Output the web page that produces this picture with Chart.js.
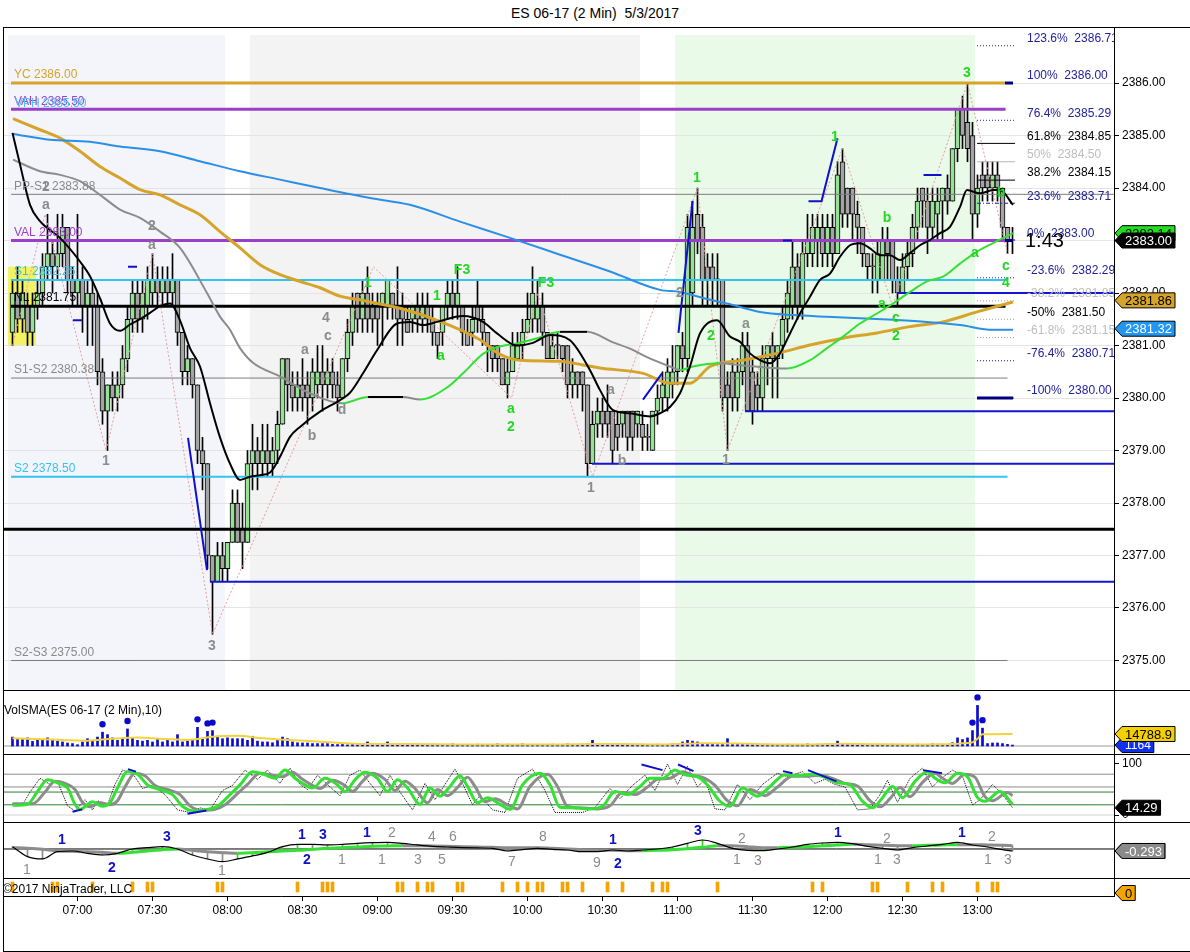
<!DOCTYPE html>
<html>
<head>
<meta charset="utf-8">
<title>ES 06-17 (2 Min) 5/3/2017</title>
<script src="https://cdn.jsdelivr.net/npm/chart.js@4.4.1/dist/chart.umd.min.js"></script>
<style>
  html, body { margin: 0; padding: 0; background: #fff; }
  body { width: 1190px; height: 952px; position: relative; overflow: hidden; font-family: "Liberation Sans", Arial, sans-serif; }
  #title { position: absolute; top: 5px; left: 0; width: 1190px; text-align: center; font-size: 14px; white-space: pre; }
  canvas { position: absolute; left: 0; }
  .sep { position: absolute; left: 3px; width: 1187px; height: 1px; background: #000; z-index: 5; }
  #frame { position: absolute; left: 3px; top: 27px; width: 1186px; height: 923px; border: 1px solid #000; z-index: 5; pointer-events: none; }
  .lbl { position: absolute; font-size: 12px; z-index: 6; white-space: pre; }
</style>
</head>
<body>
<div id="title">ES 06-17 (2 Min)  5/3/2017</div>
<canvas id="price" width="1190" height="662" style="top:28px"></canvas>
<canvas id="vol" width="1190" height="64" style="top:690px"></canvas>
<canvas id="stoch" width="1190" height="68" style="top:754px"></canvas>
<canvas id="macd" width="1190" height="56" style="top:822px"></canvas>
<canvas id="mark" width="1190" height="47" style="top:878px"></canvas>
<div class="sep" style="top:690px"></div>
<div class="sep" style="top:754px"></div>
<div class="sep" style="top:822px"></div>
<div class="sep" style="top:878px"></div>
<div id="frame"></div>
<div class="lbl" style="left:4px;top:703px">VolSMA(ES 06-17 (2 Min),10)</div>
<div class="lbl" style="left:3px;top:882px">©2017 NinjaTrader, LLC</div>
<script>
// ---------- time axis ----------
const FIRST_BAR = '06:34';
const BAR_MINUTES = 2;
const TIME_LABELS = ['07:00', '07:30', '08:00', '08:30', '09:00', '09:30', '10:00',
                     '10:30', '11:00', '11:30', '12:00', '12:30', '13:00'];

// ---------- 2 minute bars ----------
const BAR_OPEN = [
  2381.25, 2382.0, 2381.5, 2381.75, 2381.25, 2381.75, 2382.0, 2382.5, 2382.75, 2382.5,
  2382.75, 2383.25, 2382.25, 2382.0, 2382.25, 2381.75, 2382.0, 2381.75, 2380.5, 2379.75,
  2380.25, 2380.0, 2380.25, 2380.75, 2381.5, 2382.0, 2381.5, 2381.75, 2382.0, 2382.25,
  2382.0, 2382.25, 2382.0, 2382.25, 2381.25, 2380.5, 2380.75, 2380.25, 2379.0, 2378.75,
  2377.0, 2376.5, 2377.0, 2376.75, 2377.25, 2378.0, 2377.5, 2377.25, 2378.75, 2379.0,
  2378.75, 2379.0, 2378.75, 2379.0, 2379.5, 2380.75, 2380.25, 2380.0, 2380.25, 2380.25,
  2380.0, 2380.25, 2380.5, 2380.25, 2380.5, 2380.25, 2380.0, 2380.75, 2381.25, 2382.0,
  2381.5, 2382.0, 2381.75, 2381.75, 2381.75, 2381.75, 2382.0, 2381.75, 2381.75, 2381.5,
  2381.5, 2381.75, 2381.5, 2381.75, 2381.5, 2381.25, 2381.25, 2381.75, 2382.0, 2381.75,
  2381.75, 2381.25, 2381.25, 2381.75, 2381.5, 2381.25, 2381.0, 2381.0, 2380.75, 2380.25,
  2380.5, 2380.75, 2381.0, 2381.25, 2381.5, 2381.5, 2381.75, 2381.25, 2380.75, 2381.0,
  2381.0, 2381.0, 2380.25, 2380.5, 2380.5, 2380.25, 2378.75, 2379.5, 2379.75, 2379.75,
  2379.75, 2379.5, 2379.5, 2379.75, 2379.75, 2379.5, 2379.5, 2379.25, 2379.0, 2379.75,
  2380.0, 2380.0, 2380.25, 2380.5, 2381.0, 2380.75, 2382.0, 2383.5, 2383.25, 2382.5,
  2382.5, 2382.25, 2382.25, 2380.25, 2380.5, 2380.0, 2380.5, 2381.0, 2380.5, 2380.25,
  2380.0, 2380.75, 2381.0, 2380.75, 2381.0, 2381.5, 2381.75, 2382.5, 2381.75, 2382.75,
  2382.75, 2383.0, 2383.25, 2382.75, 2383.25, 2382.75, 2384.5, 2384.0, 2384.0, 2383.5,
  2383.25, 2382.75, 2382.5, 2382.25, 2382.25, 2383.0, 2383.0, 2382.25, 2382.0, 2382.5,
  2382.75, 2383.25, 2384.0, 2383.75, 2383.25, 2383.5, 2383.75, 2384.0, 2383.75, 2384.75,
  2385.5, 2385.25, 2385.0, 2383.5, 2384.25, 2384.25, 2384.0, 2384.25, 2384.0, 2383.25,
  2383.0
];
const BAR_HIGH = [
  2382.25, 2382.5, 2382.25, 2382.0, 2382.0, 2382.25, 2382.75, 2383.5, 2383.0, 2383.5,
  2383.5, 2383.25, 2382.5, 2383.5, 2382.5, 2382.25, 2382.25, 2382.0, 2380.75, 2380.25,
  2380.5, 2380.5, 2381.0, 2381.75, 2382.25, 2382.25, 2382.25, 2382.5, 2382.75, 2382.5,
  2382.5, 2382.5, 2382.75, 2382.25, 2381.25, 2381.0, 2380.75, 2380.25, 2379.25, 2378.75,
  2377.0, 2377.25, 2377.25, 2377.25, 2378.25, 2378.25, 2378.0, 2379.0, 2379.5, 2379.25,
  2379.5, 2379.5, 2379.25, 2379.75, 2380.75, 2380.75, 2380.5, 2380.5, 2380.75, 2380.5,
  2380.75, 2381.0, 2381.0, 2380.75, 2380.75, 2380.5, 2380.75, 2381.5, 2382.0, 2382.0,
  2382.25, 2382.5, 2382.0, 2382.0, 2382.0, 2382.25, 2382.0, 2382.5, 2382.0, 2381.75,
  2381.75, 2382.0, 2382.0, 2382.0, 2381.75, 2381.25, 2381.75, 2382.25, 2382.25, 2382.5,
  2381.75, 2381.5, 2381.75, 2382.25, 2381.75, 2381.25, 2381.0, 2381.0, 2380.75, 2380.75,
  2381.25, 2381.25, 2381.5, 2382.0, 2382.5, 2382.25, 2382.0, 2381.25, 2381.25, 2381.25,
  2381.0, 2381.0, 2380.75, 2380.5, 2380.5, 2380.25, 2379.75, 2380.0, 2380.0, 2380.25,
  2379.75, 2379.75, 2379.75, 2379.75, 2379.75, 2379.75, 2379.75, 2379.5, 2379.75, 2380.25,
  2380.5, 2380.75, 2381.0, 2381.0, 2381.25, 2383.5, 2383.75, 2384.0, 2383.5, 2382.75,
  2382.75, 2382.75, 2382.25, 2380.5, 2380.75, 2380.75, 2381.25, 2381.25, 2380.75, 2380.5,
  2381.0, 2381.0, 2381.25, 2381.0, 2381.75, 2382.25, 2383.0, 2382.75, 2383.0, 2383.5,
  2383.5, 2383.5, 2383.5, 2383.5, 2383.5, 2384.5, 2384.75, 2384.0, 2384.0, 2383.75,
  2383.25, 2382.75, 2382.75, 2383.0, 2383.25, 2383.25, 2383.0, 2382.5, 2382.75, 2383.0,
  2383.5, 2384.0, 2384.0, 2384.0, 2384.0, 2384.0, 2384.0, 2384.25, 2384.75, 2385.5,
  2385.75, 2386.0, 2385.25, 2384.25, 2384.5, 2384.5, 2384.5, 2384.5, 2384.0, 2383.25,
  2383.25
];
const BAR_LOW = [
  2381.0, 2381.25, 2381.25, 2381.0, 2381.0, 2381.5, 2381.75, 2382.25, 2382.0, 2382.25,
  2382.5, 2382.0, 2381.75, 2381.75, 2381.25, 2381.0, 2381.0, 2380.25, 2379.5, 2379.0,
  2379.75, 2379.75, 2380.0, 2380.5, 2381.25, 2381.25, 2381.25, 2381.5, 2381.75, 2381.75,
  2381.75, 2381.75, 2381.75, 2381.0, 2380.25, 2380.25, 2380.0, 2378.75, 2378.25, 2376.75,
  2375.5, 2376.5, 2376.5, 2376.5, 2377.25, 2377.25, 2376.75, 2377.25, 2378.25, 2378.25,
  2378.5, 2378.5, 2378.5, 2378.75, 2379.5, 2379.75, 2379.75, 2379.75, 2379.75, 2379.5,
  2379.75, 2380.0, 2379.75, 2380.0, 2380.0, 2379.75, 2380.0, 2380.5, 2381.0, 2381.25,
  2381.25, 2381.25, 2381.25, 2381.0, 2381.0, 2381.5, 2381.5, 2381.0, 2381.0, 2381.25,
  2381.25, 2381.25, 2381.25, 2381.25, 2381.0, 2380.75, 2381.0, 2381.5, 2381.5, 2381.5,
  2381.0, 2381.0, 2381.0, 2381.25, 2381.0, 2380.5, 2380.5, 2380.5, 2380.25, 2380.0,
  2380.5, 2380.75, 2380.75, 2381.25, 2381.25, 2381.25, 2381.0, 2380.75, 2380.75, 2380.75,
  2380.5, 2380.0, 2380.0, 2380.0, 2379.75, 2378.5, 2378.75, 2379.25, 2379.25, 2379.25,
  2378.75, 2379.0, 2379.25, 2379.0, 2379.0, 2379.25, 2379.0, 2379.0, 2379.0, 2379.5,
  2379.75, 2379.75, 2380.0, 2380.25, 2380.5, 2380.5, 2381.75, 2382.75, 2381.75, 2381.75,
  2381.75, 2381.75, 2379.75, 2379.0, 2379.75, 2379.75, 2380.25, 2379.75, 2379.5, 2379.75,
  2379.75, 2380.25, 2380.0, 2380.0, 2380.75, 2381.25, 2381.5, 2381.5, 2381.5, 2382.5,
  2382.5, 2382.5, 2382.5, 2382.5, 2382.5, 2382.75, 2383.25, 2383.25, 2383.0, 2382.75,
  2382.5, 2382.25, 2382.0, 2382.0, 2382.25, 2382.25, 2382.0, 2381.75, 2382.0, 2382.25,
  2382.5, 2383.0, 2383.25, 2382.75, 2383.0, 2383.0, 2383.0, 2383.5, 2383.75, 2384.5,
  2384.75, 2384.5, 2383.0, 2383.25, 2383.75, 2383.75, 2383.75, 2383.75, 2383.0, 2382.75,
  2382.75
];
const BAR_CLOSE = [
  2382.0, 2381.5, 2382.0, 2381.25, 2381.75, 2382.0, 2382.5, 2382.75, 2382.5, 2382.75,
  2383.25, 2382.25, 2382.0, 2382.25, 2381.75, 2382.0, 2381.75, 2380.5, 2379.75, 2380.25,
  2380.0, 2380.25, 2380.75, 2381.5, 2382.0, 2381.5, 2382.0, 2382.25, 2382.25, 2382.0,
  2382.25, 2382.0, 2382.25, 2381.25, 2380.5, 2380.75, 2380.25, 2379.0, 2378.75, 2377.0,
  2376.5, 2377.0, 2376.75, 2377.25, 2378.0, 2377.25, 2377.25, 2378.75, 2379.0, 2378.75,
  2379.0, 2378.75, 2379.0, 2379.5, 2380.75, 2380.25, 2380.0, 2380.25, 2380.0, 2380.0,
  2380.5, 2380.5, 2380.25, 2380.5, 2380.25, 2380.0, 2380.75, 2381.25, 2381.75, 2381.5,
  2382.0, 2381.5, 2381.5, 2381.5, 2382.0, 2382.25, 2381.75, 2381.5, 2381.5, 2381.25,
  2381.75, 2381.5, 2381.75, 2381.5, 2381.25, 2381.0, 2381.75, 2382.0, 2381.75, 2382.0,
  2381.25, 2381.0, 2381.5, 2381.5, 2381.25, 2381.0, 2380.75, 2380.75, 2380.25, 2380.5,
  2381.0, 2381.0, 2381.25, 2381.5, 2382.0, 2381.75, 2381.25, 2380.75, 2381.0, 2381.0,
  2380.75, 2380.25, 2380.5, 2380.25, 2380.25, 2378.75, 2379.5, 2379.75, 2379.5, 2379.5,
  2379.0, 2379.25, 2379.75, 2379.25, 2379.25, 2379.75, 2379.25, 2379.25, 2379.75, 2380.0,
  2380.25, 2380.5, 2380.5, 2381.0, 2380.75, 2383.25, 2383.25, 2383.0, 2382.25, 2382.25,
  2382.25, 2382.25, 2380.0, 2380.0, 2380.0, 2380.5, 2381.0, 2379.75, 2379.75, 2380.0,
  2380.75, 2381.0, 2380.75, 2381.0, 2381.5, 2382.0, 2382.5, 2381.75, 2382.75, 2383.0,
  2383.25, 2383.25, 2382.75, 2383.25, 2382.75, 2384.25, 2383.5, 2383.5, 2383.5, 2383.25,
  2382.75, 2382.5, 2382.5, 2382.75, 2383.0, 2382.75, 2382.25, 2382.0, 2382.5, 2382.75,
  2383.25, 2383.75, 2383.75, 2383.25, 2383.75, 2383.75, 2384.0, 2383.75, 2384.75, 2385.5,
  2385.0, 2384.75, 2383.5, 2384.0, 2384.0, 2384.0, 2384.25, 2384.0, 2383.25, 2383.0,
  2383.0
];

// ---------- moving averages, [bar, price] ----------
const MA_FAST = [[0,2385.05],[1.5,2384.45],[3.5,2383.68],[5.5,2383.37],[9.5,2383.05],[13.5,2382.6],[15.5,2382.32],
  [17.5,2381.9],[19.5,2381.42],[21.5,2381.28],[23.5,2381.4],[25.5,2381.5],[27.5,2381.62],[29.5,2381.75],[31.5,2381.8],
  [33.5,2381.48],[35.5,2380.95],[37.5,2380.6],[39.5,2379.9],[41.5,2379.25],[43.5,2378.75],[45.5,2378.44],[47.5,2378.5],
  [49.5,2378.53],[51.5,2378.58],[53.5,2378.88],[55.5,2379.26],[57.5,2379.45],[61.5,2379.74],[65.5,2379.96],[67.5,2380.1],
  [70.1,2380.47],[72.9,2380.91],[76.9,2381.42],[79.5,2381.45],[82.1,2381.39],[84.9,2381.45],[90.1,2381.56],[94.1,2381.45],
  [96.9,2381.23],[100.9,2381.0],[104.1,2381.05],[107.5,2381.2],[111.5,2381.1],[115.5,2380.53],[117.5,2380.15],[120.1,2379.77],
  [123.5,2379.71],[127.5,2379.65],[129.5,2379.71],[131.5,2379.83],[133.5,2380.09],[135.5,2380.6],[137.5,2381.23],[140.9,2381.48],
  [143.5,2381.17],[145.5,2381.07],[147.5,2380.85],[149.5,2380.72],[151.5,2380.66],[153.5,2380.85],[155.5,2381.23],[157.5,2381.61],
  [159.5,2381.93],[161.5,2382.25],[163.5,2382.37],[165.5,2382.69],[167.5,2382.91],[169.5,2382.95],[171.5,2382.85],[173.5,2382.72],
  [175.5,2382.72],[177.5,2382.63],[179.5,2382.76],[181.5,2382.91],[183.5,2383.01],[185.5,2383.14],[187.5,2383.26],[189.5,2383.64],
  [190.9,2383.96],[193.5,2383.9],[196.1,2383.96],[197.5,2383.96],[200.1,2383.68]];
const MA_TREND = [[0.1,2384.54],[5.5,2384.32],[9.5,2384.25],[13.5,2384.13],[17.5,2383.87],[21.5,2383.59],[25.5,2383.43],
  [29.5,2383.17],[33.5,2382.86],[38.9,2382.0],[41.5,2381.55],[43.5,2381.3],[45.5,2380.95],[48.1,2380.67],[53.5,2380.41],
  [59.5,2380.09],[65.9,2379.9],[71.1,2380.02],[78.1,2380.02],[81.5,2379.97],[86.9,2380.2],[90.1,2380.47],[94.1,2380.84],
  [96.9,2380.97],[100.9,2381.04],[103.5,2381.1],[106.1,2381.17],[109.5,2381.26],[114.9,2381.26],[120.1,2381.06],[123.5,2380.94],
  [126.9,2380.78],[131.5,2380.6],[133.5,2380.53],[136.1,2380.6],[141.5,2380.66],[146.1,2380.62],[154.9,2380.56],[159.5,2380.72],
  [162.9,2380.95],[166.1,2381.17],[169.5,2381.42],[172.9,2381.61],[176.1,2381.8],[179.5,2382.02],[182.9,2382.22],[186.1,2382.31],
  [189.5,2382.56],[192.9,2382.79],[196.1,2382.95],[200.1,2383.14]];
const MA_GOLD = [[0.1,2385.32],[5.5,2385.11],[9.5,2384.95],[13.5,2384.7],[17.5,2384.41],[21.5,2384.19],[25.5,2383.97],
  [29.5,2383.87],[33.5,2383.68],[37.5,2383.49],[41.5,2383.17],[45.5,2382.86],[49.5,2382.54],[53.5,2382.35],[57.5,2382.22],
  [61.5,2382.1],[65.5,2381.94],[69.5,2381.87],[71.5,2381.83],[77.5,2381.71],[85.5,2381.46],[93.5,2381.11],[97.5,2380.83],
  [101.5,2380.72],[109.5,2380.7],[114.1,2380.63],[117.5,2380.57],[126.1,2380.47],[131.5,2380.28],[135.5,2380.28],[139.5,2380.6],
  [146.1,2380.72],[152.9,2380.85],[159.5,2381.01],[166.1,2381.14],[172.9,2381.24],[179.5,2381.36],[186.1,2381.45],[192.9,2381.64],
  [200.1,2381.83]];
const MA_SLOW = [[0.1,2385.03],[7.5,2384.92],[15.5,2384.88],[21.5,2384.79],[29.5,2384.7],[37.5,2384.51],[45.5,2384.32],
  [53.5,2384.16],[61.5,2384.0],[71.5,2383.81],[79.5,2383.68],[89.5,2383.36],[99.5,2383.05],[109.5,2382.73],[119.5,2382.41],
  [129.5,2382.06],[133.5,2382.02],[139.5,2381.87],[142.9,2381.8],[149.5,2381.64],[156.1,2381.58],[162.9,2381.55],[169.5,2381.52],
  [176.1,2381.49],[182.9,2381.45],[189.5,2381.39],[196.1,2381.3],[200.1,2381.3]];

// swing zigzag and trend strokes, [bar, price]
const ZIGZAG = [[0,2381.0],[6.5,2383.5],[18.7,2379.0],[28,2382.75],[40,2375.5],[72.2,2382.5],[99.8,2380.0],
  [105.1,2382.0],[116,2378.5],[137,2384.0],[143,2379.0],[166,2384.75],[176,2381.75],[191,2386.0],[199,2382.75]];
const TREND_STROKES = [
  [[35.1,2379.24],[38.9,2376.72]],
  [[126.1,2379.97],[129.9,2380.47]],
  [[133.2,2381.24],[136.0,2383.75]],
  [[159.2,2383.75],[161.8,2383.75],[165.0,2384.95]],
  [[182.2,2384.25],[185.8,2384.25]],
  [[154.1,2383.0],[155.9,2383.0]],
  [[23.1,2382.5],[24.9,2382.5]],
  [[12.1,2381.48],[13.9,2381.48]]
];

// ---------- price levels ----------
const LEVEL_NAMES  = ['YC', 'VAH', 'VPH', 'PP-S1', 'VAL', 'S1', 'NL', 'S1-S2', 'S2', 'S2-S3', 'BL'];
const LEVEL_PRICES = [2386.00, 2385.50, 2385.50, 2383.88, 2383.00, 2382.25, 2381.75, 2380.38, 2378.50, 2375.00, 2377.50];
const SUPPORT_PRICES = [2376.50, 2378.75, 2379.75, 2382.00];
const SUPPORT_FROM   = [39.5, 115.9, 146.5, 176.9];
const FIB_PCTS   = [123.6, 100, 76.4, 61.8, 50, 38.2, 23.6, 0, -23.6, -38.2, -50, -61.8, -76.4, -100];
const FIB_PRICES = [2386.71, 2386.00, 2385.29, 2384.85, 2384.50, 2384.15, 2383.71, 2383.00,
                    2382.29, 2381.85, 2381.50, 2381.15, 2380.71, 2380.00];
const PRICE_TICKS = [2375, 2376, 2377, 2378, 2379, 2380, 2381, 2382, 2383, 2384, 2385, 2386];
const PRICE_TAGS = [2383.14, 2383.00, 2381.86, 2381.32];
const BAR_TIMER = '1:43';

// wave labels: [bar, price, text, tone]
const WAVE_NOTES = [
  [6.7,2384.02,'2','n'],[6.7,2383.68,'a','n'],[18.7,2378.8,'1','n'],[27.9,2383.28,'2','n'],[27.9,2382.91,'a','n'],
  [39.9,2375.28,'3','n'],[62.7,2381.52,'4','n'],[63.1,2381.18,'c','n'],[58.5,2380.91,'a','n'],[59.9,2379.28,'b','n'],
  [65.9,2379.77,'d','n'],[71.1,2382.19,'1','g'],[84.9,2381.94,'1','g'],[89.9,2382.44,'F3','g'],[85.7,2380.8,'a','g'],
  [99.7,2379.79,'a','g'],[99.7,2379.45,'2','g'],[106.7,2382.19,'F3','g'],[115.7,2378.29,'1','n'],[121.9,2378.8,'b','n'],
  [119.7,2380.15,'a','n'],[136.9,2384.19,'1','g'],[133.5,2382.0,'2','n'],[139.7,2381.18,'2','g'],[146.7,2381.41,'a','n'],
  [142.7,2378.82,'1','n'],[164.5,2384.97,'1','g'],[174.9,2383.43,'b','g'],[173.9,2381.79,'a','g'],[176.7,2381.52,'c','g'],
  [176.7,2381.18,'2','g'],[190.9,2386.19,'3','g'],[197.7,2383.9,'b','g'],[192.5,2382.76,'a','g'],[198.7,2382.51,'c','g'],
  [198.7,2382.19,'4','g']
];

// ---------- volume ----------
const VOLUME = [
  11000, 9000, 9000, 10000, 5700, 7000, 8000, 10000, 7000, 6000,
  5000, 3700, 3000, 1600, 5000, 9000, 7000, 11000, 17000, 14000,
  10000, 7000, 9000, 21000, 10000, 7000, 6000, 7000, 5000, 9000,
  5000, 7000, 5000, 14000, 5000, 6000, 8000, 23000, 9000, 18000,
  19000, 12000, 9000, 10000, 9000, 9000, 9000, 7000, 12000, 6000,
  5000, 5000, 4000, 7000, 11000, 9000, 5000, 4000, 3700, 3700,
  3000, 3000, 3000, 3000, 2000, 1800, 2000, 1500, 2000, 1800,
  2500, 5000, 2000, 1800, 2500, 5000, 2200, 1500, 2000, 1800,
  1500, 2000, 1700, 1500, 2200, 1800, 1500, 1700, 2500, 1800,
  2000, 1500, 1800, 2200, 1500, 1700, 2000, 2500, 1800, 2200,
  2000, 1500, 2500, 1800, 2000, 1700, 1500, 1800, 2200, 1500,
  1800, 2500, 2000, 1700, 2200, 2500, 7000, 2000, 1500, 1800,
  1500, 2000, 1700, 1500, 1800, 1600, 2000, 1500, 1700, 2200,
  1800, 2000, 2500, 2200, 5000, 7000, 6000, 5000, 3000, 2000,
  2200, 1800, 2000, 9000, 2500, 2000, 2200, 1800, 2500, 2000,
  1500, 2200, 1800, 1700, 2000, 2200, 1800, 1500, 2000, 2500,
  1800, 2200, 2000, 2500, 3000, 6000, 2500, 2200, 2000, 1800,
  2200, 2000, 1800, 1500, 2000, 1800, 2200, 1700, 1500, 1800,
  2000, 2200, 1800, 2000, 2500, 2200, 1800, 2000, 4000, 10000,
  8000, 10000, 19000, 50000, 22000, 3000, 3700, 3700, 3000, 2000,
  1164
];
const VOL_SMA = [[0,9500],[5,8500],[10,7500],[15,6500],[20,9000],[25,10500],[30,8500],[35,7500],[40,11500],[45,12500],
  [50,9500],[55,7500],[60,6000],[65,4000],[70,2500],[75,2600],[80,2400],[90,1900],[100,1900],[110,2000],[116,2500],
  [122,2600],[130,1800],[138,3500],[145,3200],[150,2300],[160,2000],[166,2800],[172,2200],[180,1900],[188,2400],
  [190,3300],[192,4500],[193,9000],[194,14500],[200,14788.9]];
const VOL_SPIKE = 16000;

// ---------- stochastics, [bar, value] ----------
const STOCH_SMOOTH = [[0,19],[3,21],[5,46],[7,69],[9,63],[11,53],[12.5,21],[13.5,11],[16,26],[18,17],[19.5,24],[21,53],
  [23,85],[25,80],[27,59],[29.5,50],[32,40],[34,17],[36.5,8],[39,11],[41,17],[43.5,40],[45.5,59],[48,85],[50.5,79],
  [52.5,72],[54.5,88],[56.5,72],[58.5,59],[60,53],[62.5,72],[65,59],[66.5,46],[68.5,69],[70.5,84],[73,72],[75,46],
  [77,69],[79,53],[81.5,21],[83.5,53],[85.5,37],[87.5,56],[89.5,77],[91,56],[93,24],[95,34],[97.5,21],[99.5,11],
  [102,59],[105.5,82],[107.5,59],[109.5,15],[112,14],[115.5,12],[118,17],[120.5,46],[123,40],[125.5,56],[127.5,72],
  [130,72],[132.5,88],[134.5,79],[137,75],[139,59],[141.5,27],[143.5,17],[146,53],[149,37],[151.5,56],[154.5,79],
  [157,77],[160,80],[163,72],[165,63],[167.5,59],[170,27],[172,14],[174,34],[176,56],[178,34],[180.5,66],[183,85],
  [184.5,72],[186.5,63],[189,82],[191,75],[193,34],[194.5,27],[197.5,46],[200,21]];
const STOCH_D = [[0,22],[4,22],[6.5,45],[8.5,66],[10.5,62],[12.5,50],[14,25],[15.5,16],[17.5,24],[19.5,20],[21,28],
  [22.5,55],[24.5,82],[26.5,77],[28.5,58],[31,50],[33.5,40],[35.5,18],[38,9],[40.5,11],[42.5,20],[45,42],[47,60],
  [49.5,82],[52,78],[54,75],[56,84],[58,70],[60,58],[61.5,52],[64,68],[66.5,58],[68,46],[70,66],[72,82],[74.5,70],
  [76.5,48],[78.5,66],[80.5,52],[83,24],[85,50],[87,38],[89,54],[91,74],[92.5,56],[94.5,26],[96.5,32],[99,20],
  [101,12],[103.5,56],[107,80],[109,56],[111,17],[113.5,14],[117,12],[119.5,18],[122,44],[124.5,40],[127,55],
  [129,70],[131.5,72],[134,85],[136,78],[138.5,72],[140.5,58],[143,28],[145,18],[147.5,50],[150.5,38],[153,55],
  [156,76],[158.5,76],[161.5,78],[164.5,70],[166.5,62],[169,57],[171.5,28],[173.5,16],[175.5,32],[177.5,54],
  [179.5,36],[182,64],[184.5,82],[186,72],[188,62],[190.5,80],[192.5,74],[194.5,36],[196,28],[199,44],[200,38]];
const STOCH_K = [[0,22],[2,20],[3.5,45],[5.5,72],[7.5,60],[9,66],[11,18],[12.5,8],[14.5,30],[16,10],[17,28],[19,20],
  [20.5,60],[22,88],[24,82],[26,52],[28,58],[30.5,40],[33,10],[35.5,5],[37.5,14],[39.5,10],[42,48],[44,58],[46.5,88],
  [49,70],[51,88],[53.5,62],[55.5,92],[57.5,60],[59,50],[61,78],[63.5,55],[65.5,38],[67.5,78],[69.5,88],[71.5,62],
  [73.5,38],[75.5,78],[77.5,45],[80,10],[82.5,62],[84.5,30],[86.5,60],[88.5,90],[90,62],[92,20],[93.5,38],[96,10],
  [98.5,5],[101,72],[104,90],[106.5,48],[108.5,5],[111,5],[114,5],[116.5,15],[119.5,52],[121.5,32],[124,58],
  [126.5,78],[128.5,48],[131,100],[133,60],[135,95],[137,55],[138.5,70],[140.5,12],[142.5,10],[145,60],[147.5,30],
  [150,60],[153,82],[155,75],[158,85],[160.5,62],[162.5,70],[164.5,60],[166.5,55],[169,10],[171.5,12],[173.5,40],
  [175,68],[177,25],[179.5,72],[182,92],[184,55],[185.5,70],[188,88],[190,76],[192,20],[193.5,30],[196,60],[198,40],
  [200,14.29]];
const STOCH_STROKES = [
  [[12.0,6.5],[13.95,11]], [[23.1,90],[24.7,85]], [[35,2.6],[38.8,9]], [[125.8,99],[130,88]],
  [[133.1,99],[136.2,86]], [[154.1,86],[156,82]], [[159.1,88],[164.8,66]], [[182.1,88],[185.9,82]]
];
const STOCH_LEVELS = [80, 55, 45, 20, 0];
const STOCH_TICKS = [0, 100];

// ---------- MACD ----------
const MACD_BARS = [0,3,6,9,12,15,18,21,24,27,30,33,36,39,42,45,48,51,54,57,60,63,66,69,72,75,78,81,84,87,
  90,93,96,99,102,105,108,111,114,117,120,123,126,129,132,135,138,141,144,147,150,153,156,159,162,165,168,171,
  174,177,180,183,186,189,192,195,198,200];
const MACD_LINE = [0.34,-1.12,-1.46,-0.39,-0.29,-0.63,-0.88,-0.63,0,0.20,
  0.34,0,-0.88,-1.46,-1.85,-1.46,-1.02,-0.49,0.34,0.68,
  0.68,0.59,0.68,0.83,0.93,0.98,0.83,0.59,0.39,0.29,
  0.20,0.15,0.10,-0.29,-0.10,0.10,-0.05,-0.15,-0.39,-0.39,
  -0.15,-0.29,-0.15,0,0.29,0.83,1.32,0.83,0.10,-0.20,
  -0.24,0,0.29,0.68,0.88,0.98,0.78,0.39,0.10,-0.15,
  0.20,0.44,0.68,0.98,0.59,0.29,-0.10,-0.29];
const MACD_SIGNAL = [0.20,0.10,-0.05,-0.29,-0.34,-0.39,-0.49,-0.63,-0.49,-0.29,
  -0.10,0,-0.20,-0.39,-0.54,-0.63,-0.54,-0.39,-0.29,-0.20,
  -0.05,0.10,0.20,0.29,0.39,0.44,0.49,0.49,0.44,0.39,
  0.34,0.29,0.24,0.20,0.20,0.20,0.10,0,-0.10,-0.20,
  -0.20,-0.24,-0.24,-0.20,-0.10,0.05,0.24,0.49,0.49,0.34,
  0.20,0.20,0.24,0.34,0.49,0.59,0.68,0.63,0.54,0.49,
  0.49,0.54,0.59,0.63,0.63,0.59,0.54,0.49];
// swing counts in the MACD pane: [bar, value, text, tone]
const MACD_NOTES = [
  [9.9,1.32,'1','b'],[19.9,-2.78,'2','b'],[30.9,1.76,'3','b'],[57.9,2.05,'1','b'],[62.1,2.05,'3','b'],[58.9,-1.61,'2','b'],
  [70.9,2.34,'1','b'],[120.1,1.32,'1','b'],[121.1,-2.2,'2','b'],[137.1,2.64,'3','b'],[165.1,2.34,'1','b'],[189.9,2.34,'1','b'],
  [2.9,-3.08,'1','n'],[41.9,-3.22,'1','n'],[65.9,-1.61,'1','n'],[75.9,2.34,'2','n'],[73.9,-1.61,'1','n'],[83.9,1.76,'4','n'],
  [88.1,1.76,'6','n'],[81.1,-1.61,'3','n'],[85.9,-1.61,'5','n'],[99.9,-1.9,'7','n'],[106.1,1.76,'8','n'],[116.9,-2.05,'9','n'],
  [145.9,1.47,'2','n'],[144.9,-1.61,'1','n'],[149.1,-1.76,'3','n'],[174.9,1.47,'2','n'],[173.1,-1.61,'1','n'],
  [176.9,-1.61,'3','n'],[195.9,1.76,'2','n'],[195.1,-1.61,'1','n'],[199.1,-1.61,'3','n']
];
const MACD_TAGS = [-0.291, -0.293];

// ---------- alert markers ----------
const MARKER_BARS = [0,8,9,16,24,27,28,41,42,57,62,63,64,77,78,81,83,84,89,90,98,101,103,105,106,110,111,114,
  119,122,128,130,131,141,160,162,172,173,179,184,186,193,196,197];

// ====================================================================
const X_MIN = -1.7, X_MAX = 220.3;
const AXIS_W = 76;
const FONT = '"Liberation Sans", Arial, sans-serif';
Chart.defaults.font.family = FONT;
Chart.defaults.font.size = 12;
Chart.defaults.color = '#000';

const UP = '#98E098', DOWN = '#A4A4A4';
const GREEN_TXT = '#22D822', GRAY_TXT = '#8C8C8C';
const NAVY = '#22229C';

const LEVEL_STYLE = {
  'YC':    { color: '#D6A42A', width: 3, from: -0.3, to: 198.6 },
  'VAH':   { color: '#9A3FC8', width: 3, from: -0.3, to: 198.6 },
  'VPH':   { color: '#4FC3F7', width: 1, from: -0.3, to: 198.6, dy: 2, dx: 1 },
  'PP-S1': { color: '#7C7C7C', width: 1, from: -0.3, to: X_MAX },
  'VAL':   { color: '#9A3FC8', width: 3, from: -0.3, to: 199.5 },
  'S1':    { color: '#33C3F0', width: 2, from: -0.3, to: 199.0 },
  'NL':    { color: '#000000', width: 3, from: -0.3, to: 198.6 },
  'S1-S2': { color: '#7C7C7C', width: 1, from: -0.3, to: 199.0 },
  'S2':    { color: '#33C3F0', width: 2, from: -0.3, to: 199.0 },
  'S2-S3': { color: '#7C7C7C', width: 1, from: -0.3, to: 199.0 },
  'BL':    { color: '#000000', width: 3, from: X_MIN, to: X_MAX, noLabel: true }
};
const LEVEL_TEXT = { 'YC': '#D6A42A', 'VAH': '#9A3FC8', 'VPH': '#4FC3F7', 'PP-S1': '#8A8A8A', 'VAL': '#9A3FC8',
  'S1': '#33C3F0', 'NL': '#000000', 'S1-S2': '#8A8A8A', 'S2': '#33C3F0', 'S2-S3': '#8A8A8A' };

function fibStyle(p) {
  if (p === 61.8 || p === 38.2) return { line: '#000', dash: [], text: '#000' };
  if (p === 50) return { line: '#B4B4B4', dash: [], text: '#BDBDBD' };
  if (p === -38.2 || p === -61.8) return { line: '#9A9A9A', dash: [1, 2], text: '#BDBDBD' };
  if (p === -50) return { line: '#9A9A9A', dash: [1, 2], text: '#000' };
  if (p === 23.6) return { line: NAVY, dash: [4, 2, 1, 2], text: NAVY };
  if (p === 100 || p === 0) return { line: null, dash: [], text: NAVY };
  return { line: NAVY, dash: [1, 2], text: NAVY };
}

function barOf(hhmm) {
  const [h, m] = hhmm.split(':').map(Number);
  const [h0, m0] = FIRST_BAR.split(':').map(Number);
  return ((h * 60 + m) - (h0 * 60 + m0)) / BAR_MINUTES;
}
const pts = arr => arr.map(p => ({ x: p[0], y: p[1] }));
function strokes(list) {
  const out = [];
  list.forEach(seg => { seg.forEach(p => out.push({ x: p[0], y: p[1] })); out.push({ x: seg[seg.length - 1][0], y: null }); });
  return out;
}
function hLine(y, x0, x1, color, width, dash, order) {
  return { type: 'line', data: [{ x: x0, y }, { x: x1, y }], borderColor: color, borderWidth: width,
           borderDash: dash || [], pointRadius: 0, order: order === undefined ? 8 : order };
}
function lineSet(data, color, width, order, extra) {
  return Object.assign({ type: 'line', data, borderColor: color, borderWidth: width, pointRadius: 0,
    cubicInterpolationMode: 'monotone', order }, extra || {});
}

function xScale(show) {
  return {
    type: 'linear', min: X_MIN, max: X_MAX, offset: false, display: show,
    grid: { display: show, drawOnChartArea: false, drawTicks: true, tickLength: 5, tickColor: '#000', offset: false },
    border: { display: show, color: '#000' },
    afterBuildTicks: ax => { ax.ticks = TIME_LABELS.map(t => ({ value: barOf(t) })); },
    ticks: { callback: (v, i) => TIME_LABELS[i], autoSkip: false, maxRotation: 0, padding: 2, font: { size: 12 } },
    afterFit: ax => { ax.height = show ? 29 : 0; ax.paddingLeft = 0; ax.paddingRight = 0; }
  };
}
function yScale(min, max, extra) {
  return Object.assign({
    type: 'linear', position: 'right', min, max,
    grid: { display: false },
    border: { display: true, color: '#000' },
    ticks: { display: false },
    afterFit: ax => { ax.width = AXIS_W; ax.paddingTop = 0; ax.paddingBottom = 0; }
  }, extra || {});
}
function baseOptions(yOpts, showX) {
  return {
    responsive: false, devicePixelRatio: 1, animation: false,
    layout: { padding: { left: 4, right: 0, top: 0, bottom: 0 } },
    plugins: { legend: { display: false }, tooltip: { enabled: false } },
    scales: { x: xScale(!!showX), y: yOpts }
  };
}

function drawTag(ctx, x, y, text, bg, fg, size) {
  ctx.save();
  ctx.font = (size || 13) + 'px ' + FONT;
  const w = ctx.measureText(text).width + 6, h = 15;
  ctx.beginPath();
  ctx.moveTo(x, y); ctx.lineTo(x + 7, y - h / 2); ctx.lineTo(x + 7 + w, y - h / 2);
  ctx.lineTo(x + 7 + w, y + h / 2); ctx.lineTo(x + 7, y + h / 2); ctx.closePath();
  ctx.fillStyle = bg; ctx.fill();
  ctx.strokeStyle = '#000'; ctx.lineWidth = 1; ctx.stroke();
  ctx.fillStyle = fg; ctx.textAlign = 'left'; ctx.textBaseline = 'middle';
  ctx.fillText(text, x + 10, y + 1);
  ctx.restore();
}
function tagsPlugin(id, tags) {
  return { id, afterDraw(chart) {
    const y = chart.scales.y, x0 = chart.chartArea.right + 1;
    tags.forEach(t => drawTag(chart.ctx, x0, y.getPixelForValue(t.value), t.text, t.bg, t.fg, t.size));
  } };
}
function notesPlugin(id, notes, clip) {
  return { id, afterDatasetsDraw(chart) {
    const { ctx, scales: { x, y }, chartArea: a } = chart;
    ctx.save();
    if (clip) { ctx.beginPath(); ctx.rect(a.left, a.top, a.right - a.left, a.bottom - a.top); ctx.clip(); }
    notes.forEach(n => {
      ctx.font = n.font; ctx.fillStyle = n.color;
      ctx.textAlign = n.align || 'center'; ctx.textBaseline = n.baseline || 'middle';
      ctx.fillText(n.text, x.getPixelForValue(n.x) + (n.dx || 0), y.getPixelForValue(n.y) + (n.dy || 0));
    });
    ctx.restore();
  } };
}

// ---------------- price pane ----------------
const SESSION_BANDS = [[-0.9, 42.5, '#F4F5FB'], [47.5, 125.5, '#F3F3F3'], [132.5, 192.5, '#E9FAE9']];
const bandsPlugin = { id: 'bands', beforeDraw(chart) {
  const { ctx, scales: { x, y }, chartArea: a } = chart;
  ctx.save();
  SESSION_BANDS.forEach(b => {
    ctx.fillStyle = b[2];
    const top = a.top + 7;
    ctx.fillRect(x.getPixelForValue(b[0]), top, x.getPixelForValue(b[1]) - x.getPixelForValue(b[0]), a.bottom - top);
  });
  // opening range box
  ctx.fillStyle = '#F2F263';
  const x0 = x.getPixelForValue(-0.9), x1 = x.getPixelForValue(4.7);
  const y0 = y.getPixelForValue(2382.5), y1 = y.getPixelForValue(2381.0);
  ctx.fillRect(x0, y0, x1 - x0, y1 - y0);
  ctx.restore();
} };

const priceDatasets = [];
priceDatasets.push({
  type: 'bar', data: BAR_OPEN.map((o, i) => ({ x: i, y: [BAR_LOW[i], BAR_HIGH[i]] })),
  backgroundColor: '#000', barThickness: 1, grouped: false, order: 20
});
priceDatasets.push({
  type: 'bar', data: BAR_OPEN.map((o, i) => ({ x: i, y: [Math.min(o, BAR_CLOSE[i]), Math.max(o, BAR_CLOSE[i])] })),
  backgroundColor: BAR_OPEN.map((o, i) => BAR_CLOSE[i] > o ? UP : DOWN),
  borderColor: '#000', borderWidth: 1, borderSkipped: false, barThickness: 5, minBarLength: 1, grouped: false, order: 19
});
LEVEL_NAMES.forEach((n, k) => {
  const s = LEVEL_STYLE[n];
  priceDatasets.push(hLine(LEVEL_PRICES[k], s.from, s.to, s.color, s.width, [], n === 'VPH' ? 9 : 8));
});
SUPPORT_PRICES.forEach((p, k) => priceDatasets.push(hLine(p, SUPPORT_FROM[k], X_MAX, '#1515D0', 2, [], 8)));
FIB_PCTS.forEach((p, k) => {
  const st = fibStyle(p);
  if (st.line) priceDatasets.push(hLine(FIB_PRICES[k], 192.9, 200.5, st.line, 1, st.dash, 7));
});
priceDatasets.push(hLine(FIB_PRICES[1], 198.5, 200.1, '#000080', 3, [], 6));
priceDatasets.push(hLine(FIB_PRICES[7], 198.5, 200.1, '#000080', 3, [], 6));
priceDatasets.push(hLine(FIB_PRICES[13], 192.9, 200.1, '#000080', 3, [], 6));
priceDatasets.push(lineSet(pts(ZIGZAG), '#E79C9C', 1, 12, { borderDash: [2, 2], cubicInterpolationMode: 'default', tension: 0 }));
priceDatasets.push(lineSet(pts(MA_SLOW), '#2B8FE8', 2, 5));
priceDatasets.push(lineSet(pts(MA_GOLD), '#D6A42A', 3, 5));
priceDatasets.push(lineSet(pts(MA_TREND), '#8C8C8C', 2, 4, {
  segment: { borderColor: c => {
    const s = (c.p1.parsed.y - c.p0.parsed.y) / (c.p1.parsed.x - c.p0.parsed.x);
    return s > 0.004 ? '#33E033' : (s < -0.006 ? '#8C8C8C' : '#000');
  } }
}));
priceDatasets.push(lineSet(pts(MA_FAST), '#000', 2, 3));
priceDatasets.push(lineSet(strokes(TREND_STROKES), '#1010CC', 2, 2, { cubicInterpolationMode: 'default', tension: 0, spanGaps: false }));

const priceNotes = [];
WAVE_NOTES.forEach(w => priceNotes.push({ x: w[0], y: w[1], text: w[2], color: w[3] === 'g' ? GREEN_TXT : GRAY_TXT,
  font: 'bold 14px ' + FONT }));
LEVEL_NAMES.forEach((n, k) => {
  const s = LEVEL_STYLE[n];
  if (s.noLabel) return;
  priceNotes.push({ x: 0.3, y: LEVEL_PRICES[k], text: n + ' ' + LEVEL_PRICES[k].toFixed(2), color: LEVEL_TEXT[n],
    font: '12px ' + FONT, align: 'left', baseline: 'bottom', dy: -2 + (s.dy || 0), dx: s.dx || 0 });
});
const fibNotes = FIB_PCTS.map((p, k) => ({ x: 202.9, y: FIB_PRICES[k], text: p + '%  ' + FIB_PRICES[k].toFixed(2),
  color: fibStyle(p).text, font: '12px ' + FONT, align: 'left', baseline: 'bottom', dy: -1 }));
fibNotes.push({ x: 202.5, y: 2383.0, text: BAR_TIMER, color: '#000', font: '20px ' + FONT, align: 'left', baseline: 'middle', dy: 1 });

const priceTagStyle = [['#22DD22', '#000'], ['#000', '#fff'], ['#D6A42A', '#000'], ['#2196F3', '#fff']];
new Chart(document.getElementById('price'), {
  type: 'bar',
  data: { datasets: priceDatasets },
  options: baseOptions(yScale(2374.438, 2387.048, {
    afterBuildTicks: ax => { ax.ticks = PRICE_TICKS.map(v => ({ value: v })); },
    grid: { display: true, color: '#E4E4E4', drawTicks: true, tickLength: 5, tickColor: '#000' },
    ticks: { display: true, callback: v => Number(v).toFixed(2), padding: 3, font: { size: 12 }, color: '#000' }
  })),
  plugins: [bandsPlugin, notesPlugin('priceNotes', priceNotes, false), notesPlugin('fibNotes', fibNotes, true),
    tagsPlugin('priceTags', PRICE_TAGS.map((v, k) => ({ value: v, text: v.toFixed(2), bg: priceTagStyle[k][0], fg: priceTagStyle[k][1] })))]
});

// ---------------- volume pane ----------------
const volDots = { id: 'volDots', afterDatasetsDraw(chart) {
  const { ctx, scales: { x, y } } = chart;
  ctx.save(); ctx.fillStyle = '#0A0ACC';
  VOLUME.forEach((v, i) => {
    if (v < VOL_SPIKE) return;
    ctx.beginPath(); ctx.arc(x.getPixelForValue(i), y.getPixelForValue(v) - 8, 3.2, 0, Math.PI * 2); ctx.fill();
  });
  ctx.restore();
} };
new Chart(document.getElementById('vol'), {
  type: 'bar',
  data: { datasets: [
    hLine(0, X_MIN, X_MAX, '#9A9A9A', 1, [], 5),
    { type: 'bar', data: VOLUME.map((v, i) => ({ x: i, y: v })), backgroundColor: '#0A0ACC', barThickness: 2, grouped: false, order: 4 },
    lineSet(pts(VOL_SMA), '#F2D33A', 2, 3)
  ] },
  options: baseOptions(yScale(-9856, 68992)),
  plugins: [volDots, tagsPlugin('volTags', [
    { value: VOLUME[VOLUME.length - 1], text: String(VOLUME[VOLUME.length - 1]), bg: '#1030F0', fg: '#fff', size: 12 },
    { value: VOL_SMA[VOL_SMA.length - 1][1], text: VOL_SMA[VOL_SMA.length - 1][1].toFixed(1), bg: '#F5D000', fg: '#000', size: 13 }
  ])]
});

// ---------------- stochastics pane ----------------
const stochLevelColor = ['#8C8C8C', '#8C8C8C', '#2E7D32', '#2E7D32', '#D4D4D4'];
new Chart(document.getElementById('stoch'), {
  type: 'line',
  data: { datasets: [
    ...STOCH_LEVELS.map((v, k) => hLine(v, X_MIN, X_MAX, stochLevelColor[k], 1, [], 10)),
    lineSet(pts(STOCH_K), '#000', 1, 6, { borderDash: [1, 1], cubicInterpolationMode: 'default', tension: 0 }),
    lineSet(pts(STOCH_D), '#8C8C8C', 3, 5),
    lineSet(pts(STOCH_SMOOTH), '#33E033', 3, 4),
    lineSet(strokes(STOCH_STROKES), '#1010CC', 2, 3, { cubicInterpolationMode: 'default', tension: 0, spanGaps: false })
  ] },
  options: baseOptions(yScale(-13.7, 119.6, {
    afterBuildTicks: ax => { ax.ticks = STOCH_TICKS.map(v => ({ value: v })); },
    grid: { display: true, drawOnChartArea: false, drawTicks: true, tickLength: 5, tickColor: '#000' },
    ticks: { display: true, padding: 3, font: { size: 12 }, color: '#000' }
  })),
  plugins: [tagsPlugin('stochTags', [{ value: STOCH_K[STOCH_K.length - 1][1], text: STOCH_K[STOCH_K.length - 1][1].toFixed(2), bg: '#000', fg: '#fff', size: 13 }])]
});

// ---------------- MACD pane ----------------
const hist = MACD_BARS.map((b, k) => ({ x: b, y: [MACD_SIGNAL[k], MACD_LINE[k]] }));
const macdNotes = MACD_NOTES.map(n => ({ x: n[0], y: n[1], text: n[2], color: n[3] === 'b' ? '#1010C8' : '#8C8C8C',
  font: (n[3] === 'b' ? 'bold ' : '') + '14px ' + FONT }));
new Chart(document.getElementById('macd'), {
  type: 'bar',
  data: { datasets: [
    hLine(0, X_MIN, X_MAX, '#000', 1, [], 10),
    { type: 'bar', data: hist, barThickness: 1, grouped: false, order: 9, minBarLength: 0,
      backgroundColor: c => {
        const k = c.dataIndex; if (k === 0) return '#8C8C8C';
        const d1 = MACD_LINE[k] - MACD_SIGNAL[k], d0 = MACD_LINE[k - 1] - MACD_SIGNAL[k - 1];
        return d1 > d0 ? '#33D033' : '#8C8C8C';
      } },
    lineSet(MACD_BARS.map((b, k) => ({ x: b, y: MACD_SIGNAL[k] })), '#8C8C8C', 3, 6, {
      segment: { borderColor: c => c.p1.parsed.y > c.p0.parsed.y ? '#33E033' : '#8C8C8C' } }),
    lineSet(MACD_BARS.map((b, k) => ({ x: b, y: MACD_LINE[k] })), '#000', 1.2, 5)
  ] },
  options: baseOptions(yScale(-4.249, 3.955)),
  plugins: [notesPlugin('macdNotes', macdNotes, false), tagsPlugin('macdTags', MACD_TAGS.map(v => ({ value: v, text: v.toFixed(3), bg: '#8A8A8A', fg: '#fff', size: 13 })))]
});

// ---------------- alert markers + time axis ----------------
new Chart(document.getElementById('mark'), {
  type: 'bar',
  data: { datasets: [
    { type: 'bar', data: MARKER_BARS.map(b => ({ x: b, y: [4, 14] })), backgroundColor: '#F5A300', barThickness: 3, grouped: false }
  ] },
  options: baseOptions(yScale(0, 18), true),
  plugins: [tagsPlugin('markTags', [{ value: 3, text: '0', bg: '#F5A300', fg: '#000', size: 13 }])]
});
</script>
</body>
</html>
